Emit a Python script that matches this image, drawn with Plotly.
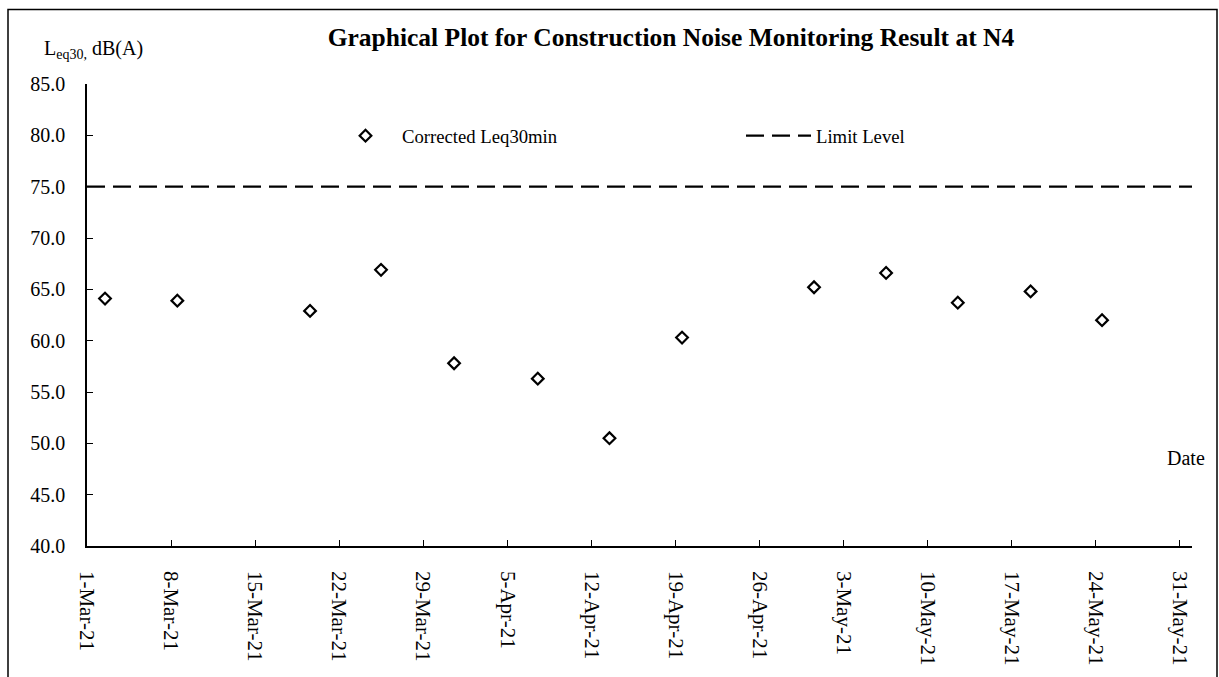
import plotly.graph_objects as go

# ---- data ----
dates = [
    "2021-03-02 12:00", "2021-03-08 12:30", "2021-03-19 13:40", "2021-03-25 11:30",
    "2021-03-31 13:30", "2021-04-07 12:45", "2021-04-13 12:00", "2021-04-19 13:00",
    "2021-04-30 12:45", "2021-05-06 12:45", "2021-05-12 12:00", "2021-05-18 13:30",
    "2021-05-24 12:15",
]
leq_values = [64.1, 63.9, 62.9, 66.9, 57.8, 56.3, 50.5, 60.3, 65.2, 66.6, 63.7, 64.8, 62.0]
limit_dates = ["2021-03-01", "2021-06-01"]
limit_values = [75.0, 75.0]

FONT = "Liberation Serif"

fig = go.Figure()
fig.add_trace(go.Scatter(
    x=dates, y=leq_values, mode="markers", name="Corrected Leq30min",
    marker=dict(symbol="diamond-open", size=9, color="black", line=dict(width=2.2, color="black")),
    legend="legend",
))
fig.add_trace(go.Scatter(
    x=limit_dates, y=limit_values, mode="lines", name="Limit Level",
    line=dict(color="black", width=2.2, dash="18px,8px"),
    legend="legend2",
))

L, R, T, B = 87, 1192, 84.4, 551.5
W, H = 1219, 677
pw, ph = R - L, B - T

def px(x):
    return (x - L) / pw

def py(y):
    return (B - y) / ph

fig.update_layout(
    width=W, height=H,
    margin=dict(l=L, r=W - R, t=T, b=H - B),
    paper_bgcolor="white", plot_bgcolor="white",
    font=dict(family=FONT, color="black", size=20),
    title=dict(
        text="<b>Graphical Plot for Construction Noise Monitoring Result at N4</b>",
        x=671 / W, xanchor="center", y=1 - 37 / H, yanchor="middle",
        font=dict(family=FONT, size=25.5, color="black"),
    ),
    showlegend=True,
    legend=dict(
        x=px(329), y=py(137), xanchor="left", yanchor="middle",
        orientation="h", itemwidth=63, bgcolor="rgba(0,0,0,0)",
        font=dict(family=FONT, size=18.7, color="black"),
    ),
    legend2=dict(
        x=px(741), y=py(137), xanchor="left", yanchor="middle",
        orientation="h", itemwidth=65, bgcolor="rgba(0,0,0,0)",
        font=dict(family=FONT, size=18.7, color="black"),
    ),
    xaxis=dict(
        type="date",
        range=["2021-03-01", "2021-06-01"],
        tick0="2021-03-01", dtick=7 * 86400000,
        tickformat="%-d-%b-%y", tickangle=90,
        ticks="inside", ticklen=6, tickwidth=1.2, tickcolor="black",
        showline=True, linecolor="black", linewidth=1.5,
        showgrid=False, zeroline=False,
        tickfont=dict(family=FONT, size=21, color="black"),
        ticklabelstandoff=19,
    ),
    yaxis=dict(
        range=[40, 85], dtick=5, tick0=40, tickformat=".1f",
        ticks="inside", ticklen=6, tickwidth=1.2, tickcolor="black",
        showline=True, linecolor="black", linewidth=1.5,
        showgrid=False, zeroline=False,
        tickfont=dict(family=FONT, size=20, color="black"),
        ticklabelstandoff=16,
    ),
    annotations=[
        dict(text="L<sub>eq30,</sub> dB(A)", xref="paper", yref="paper",
             x=px(42), y=py(50), xanchor="left", yanchor="middle", showarrow=False,
             font=dict(family=FONT, size=20, color="black")),
        dict(text="Date", xref="paper", yref="paper",
             x=px(1207), y=py(463), xanchor="right", yanchor="middle", showarrow=False,
             font=dict(family=FONT, size=20, color="black")),
    ],
    shapes=[
        dict(type="rect", xref="paper", yref="paper",
             x0=px(8), x1=px(1217), y0=py(690), y1=py(9),
             line=dict(color="black", width=1.5), fillcolor="rgba(0,0,0,0)", layer="below"),
    ],
)

fig.write_html(
    "out.html",
    config={"displayModeBar": False},
    post_script="document.body.style.margin='0';document.body.style.overflow='hidden';",
)
